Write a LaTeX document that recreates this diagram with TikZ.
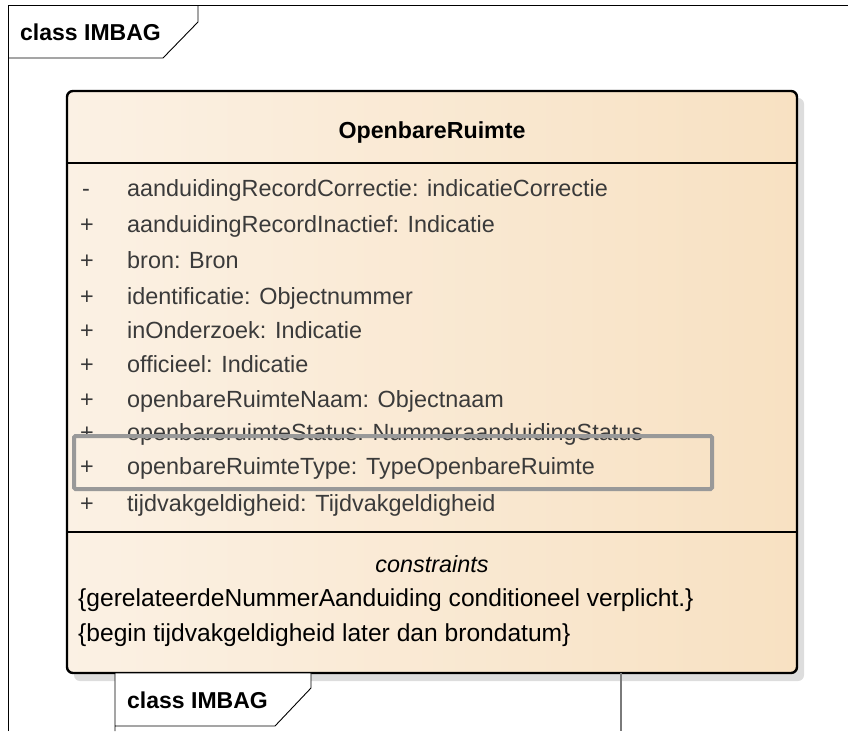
\documentclass[tikz,border=0pt]{standalone}
\usepackage{fontspec}
\setmainfont{Liberation Sans}
\definecolor{umlleft}{HTML}{FBF1E4}
\definecolor{umlright}{HTML}{F8E1C2}
\definecolor{shadowgray}{HTML}{DDDDDD}
\definecolor{attrtext}{HTML}{3A3A3A}
\definecolor{marker}{HTML}{999999}
\definecolor{edgegray}{HTML}{7A7A7A}
\begin{document}
\begin{tikzpicture}[x=1pt,y=-1pt,
  frameline/.style={draw=black,line width=0.9pt},
  textrow/.style={inner sep=0pt,text height=17pt,text depth=5pt},
  tabtitle/.style={textrow,anchor=west,font=\bfseries\fontsize{23}{27}\selectfont},
  classtitle/.style={textrow,font=\bfseries\fontsize{23.2}{27}\selectfont},
  vis/.style={textrow,text=attrtext,font=\fontsize{23.4}{28}\selectfont},
  attr/.style={textrow,anchor=west,text=attrtext,font=\fontsize{23.4}{28}\selectfont},
  stereo/.style={textrow,font=\itshape\fontsize{23.4}{28}\selectfont},
  rule/.style={textrow,anchor=west,font=\fontsize{24.6}{29}\selectfont},
]
\useasboundingbox (0,0) rectangle (848,731);

% outer diagram frame with its name tab
\draw[frameline] (8,731) -- (8,5) -- (848,5);
\draw[frameline] (8,58) -- (163,58) -- (198,22) -- (198,5);
\node[tabtitle] (frametitle) at (20,34) {class IMBAG};

% class box: shadow, gradient body, outline
\fill[shadowgray,rounded corners=6pt] (74,98) rectangle (804,681);
\path[left color=umlleft,right color=umlright,rounded corners=6pt] (67,91) rectangle (797,673);
\draw[line width=2.4pt,rounded corners=6pt] (67,91) rectangle (797,673);
\draw[line width=2.4pt] (67,163) -- (797,163);
\draw[line width=2.4pt] (67,532) -- (797,532);

\node[classtitle] (classname) at (432,132) {OpenbareRuimte};

% attributes
\node[vis] (v1) at (86,190) {-};
\node[attr] (a1) at (127,190) {aanduidingRecordCorrectie: indicatieCorrectie};
\node[vis] (v2) at (87,226) {+};
\node[attr] (a2) at (127,226) {aanduidingRecordInactief: Indicatie};
\node[vis] (v3) at (87,262) {+};
\node[attr] (a3) at (127,262) {bron: Bron};
\node[vis] (v4) at (87,298) {+};
\node[attr] (a4) at (127,298) {identificatie: Objectnummer};
\node[vis] (v5) at (87,332) {+};
\node[attr] (a5) at (127,332) {inOnderzoek: Indicatie};
\node[vis] (v6) at (87,366) {+};
\node[attr] (a6) at (127,366) {officieel: Indicatie};
\node[vis] (v7) at (87,401) {+};
\node[attr] (a7) at (127,401) {openbareRuimteNaam: Objectnaam};
\node[vis] (v8) at (87,434) {+};
\node[attr] (a8) at (127,434) {openbareruimteStatus: NummeraanduidingStatus};
\node[vis] (v9) at (87,468) {+};
\node[attr] (a9) at (127,468) {openbareRuimteType: TypeOpenbareRuimte};
\node[vis] (v10) at (87,505) {+};
\node[attr] (a10) at (127,505) {tijdvakgeldigheid: Tijdvakgeldigheid};

% highlight around one attribute
\draw[marker,line width=4pt,rounded corners=1.5pt] (74,436) rectangle (712,489);

% constraints compartment
\node[stereo] (stereo) at (432,566) {constraints};
\node[rule] (c1) at (78,600) {\{gerelateerdeNummerAanduiding conditioneel verplicht.\}};
\node[rule] (c2) at (78,635) {\{begin tijdvakgeldigheid later dan brondatum\}};

% second frame tab below the class
\filldraw[fill=white,draw=black,line width=0.9pt] (115,731) -- (115,673) -- (311,673) -- (311,688) -- (275,726) -- (115,726);
\node[tabtitle] (frametitle2) at (127,702) {class IMBAG};
\draw[edgegray,line width=2pt] (621,673) -- (621,731);
\end{tikzpicture}
\end{document}
